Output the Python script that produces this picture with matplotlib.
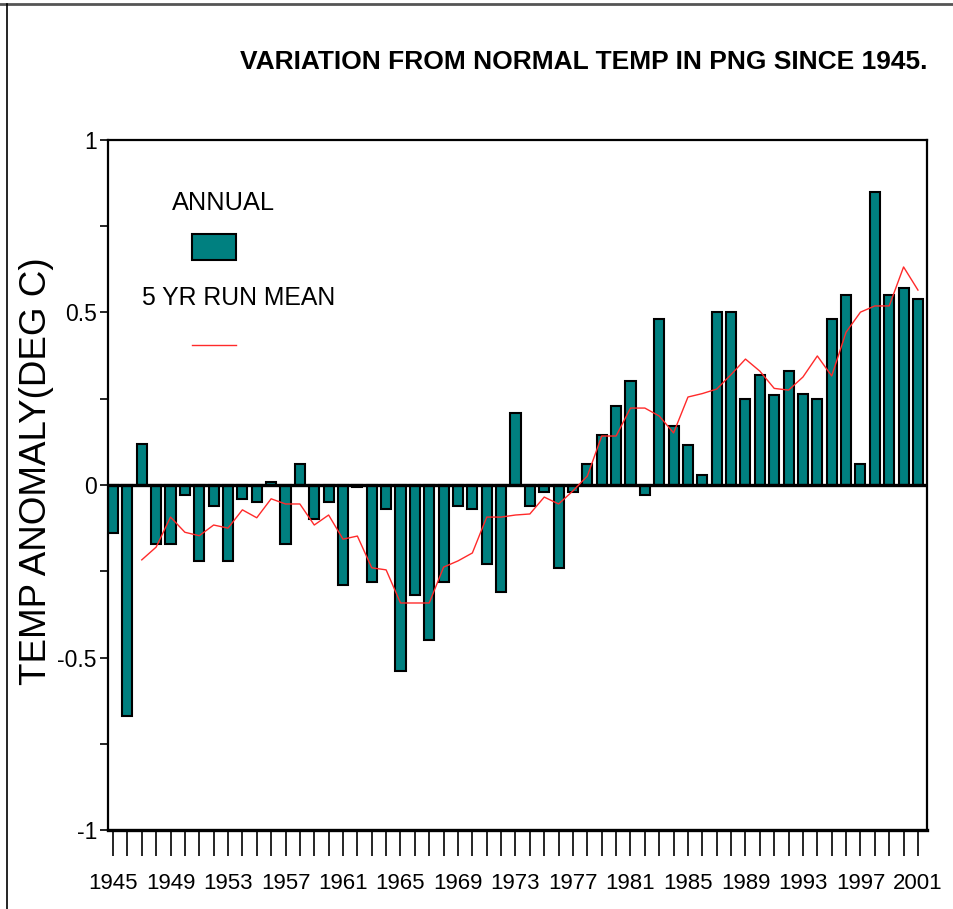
import numpy as np
import matplotlib.pyplot as plt
from matplotlib.lines import Line2D
from matplotlib.patches import Rectangle

plt.rcParams['font.family'] = ['Liberation Sans', 'DejaVu Sans']

years = list(range(1945, 2002))
annual = [-0.14, -0.67, 0.12, -0.17, -0.17, -0.03, -0.22, -0.06, -0.22, -0.04,
          -0.05, 0.01, -0.17, 0.06, -0.10, -0.05, -0.29, -0.005, -0.28, -0.07,
          -0.54, -0.32, -0.45, -0.28, -0.06, -0.07, -0.23, -0.31, 0.21, -0.06,
          -0.02, -0.24, -0.02, 0.06, 0.145, 0.23, 0.30, -0.03, 0.48, 0.17,
          0.115, 0.03, 0.50, 0.50, 0.25, 0.32, 0.26, 0.33, 0.265, 0.25,
          0.48, 0.55, 0.06, 0.85, 0.55, 0.57, 0.54]

mean_years = list(range(1947, 2002))
run_mean = [-0.217, -0.18, -0.093, -0.137, -0.147, -0.116, -0.125, -0.072, -0.095, -0.04,
            -0.055, -0.055, -0.116, -0.087, -0.157, -0.148, -0.24, -0.246, -0.342, -0.342,
            -0.342, -0.238, -0.22, -0.197, -0.093, -0.093, -0.087, -0.084, -0.035, -0.055,
            -0.017, 0.026, 0.142, 0.142, 0.223, 0.223, 0.2, 0.151, 0.255, 0.265,
            0.278, 0.32, 0.365, 0.33, 0.28, 0.275, 0.313, 0.374, 0.316, 0.443,
            0.501, 0.519, 0.519, 0.632, 0.565]

year_labels = [str(y) if (y - 1945) % 4 == 0 else '' for y in years]
y_ticks = [-1, -0.75, -0.5, -0.25, 0, 0.25, 0.5, 0.75, 1]
y_labels = ['-1', '', '-0.5', '', '0', '', '0.5', '', '1']

teal = '#008080'

fig = plt.figure(figsize=(9.54, 9.09), dpi=100)
ax = fig.add_axes([0.1132, 0.0869, 0.8585, 0.7591])

ax.bar(years, annual, width=0.7, color=teal, edgecolor='black', linewidth=1.5, zorder=2)
ax.axhline(0, color='black', linewidth=2.4, zorder=3)
ax.plot(mean_years, run_mean, color='#ff2a2a', linewidth=1.0, zorder=4)

ax.set_xlim(1944.65, 2001.63)
ax.set_ylim(-1, 1)

ax.set_xticks(years)
ax.set_xticklabels(year_labels, fontsize=16)
ax.set_yticks(y_ticks)
ax.set_yticklabels(y_labels, fontsize=16.5)
ax.tick_params(axis='x', direction='out', length=19, width=1.2, pad=12)
ax.tick_params(axis='y', direction='out', length=6, width=1.2, pad=2)

for side in ['left', 'right', 'top']:
    ax.spines[side].set_linewidth(1.6)
ax.spines['bottom'].set_linewidth(2.4)

ax.set_ylabel('TEMP ANOMALY(DEG C)', fontsize=26.5)
ax.yaxis.set_label_coords(-0.066, 0.52)

fig.text(0.612, 0.932, 'VARIATION FROM NORMAL TEMP IN PNG SINCE 1945.',
         ha='center', va='center', fontsize=19, fontweight='bold')

# legend drawn by hand
fig.text(223 / 954, 1 - 203 / 909, 'ANNUAL', ha='center', va='center', fontsize=18.3)
fig.patches.append(Rectangle((192 / 954, 1 - 260 / 909), 44 / 954, 26 / 909,
                             transform=fig.transFigure, facecolor=teal,
                             edgecolor='black', linewidth=1.5))
fig.text(239 / 954, 1 - 298 / 909, '5 YR RUN MEAN', ha='center', va='center', fontsize=17.8)
fig.lines.append(Line2D([192 / 954, 236 / 954], [1 - 345 / 909, 1 - 345 / 909],
                        transform=fig.transFigure, color='#ff2a2a', linewidth=1.0))

# outer frame lines
fig.lines.append(Line2D([0, 1], [1 - 4 / 909, 1 - 4 / 909], transform=fig.transFigure,
                        color='#555555', linewidth=2))
fig.lines.append(Line2D([7 / 954, 7 / 954], [0, 1 - 4 / 909], transform=fig.transFigure,
                        color='black', linewidth=1.2))

fig.savefig('out.png', dpi=100)
